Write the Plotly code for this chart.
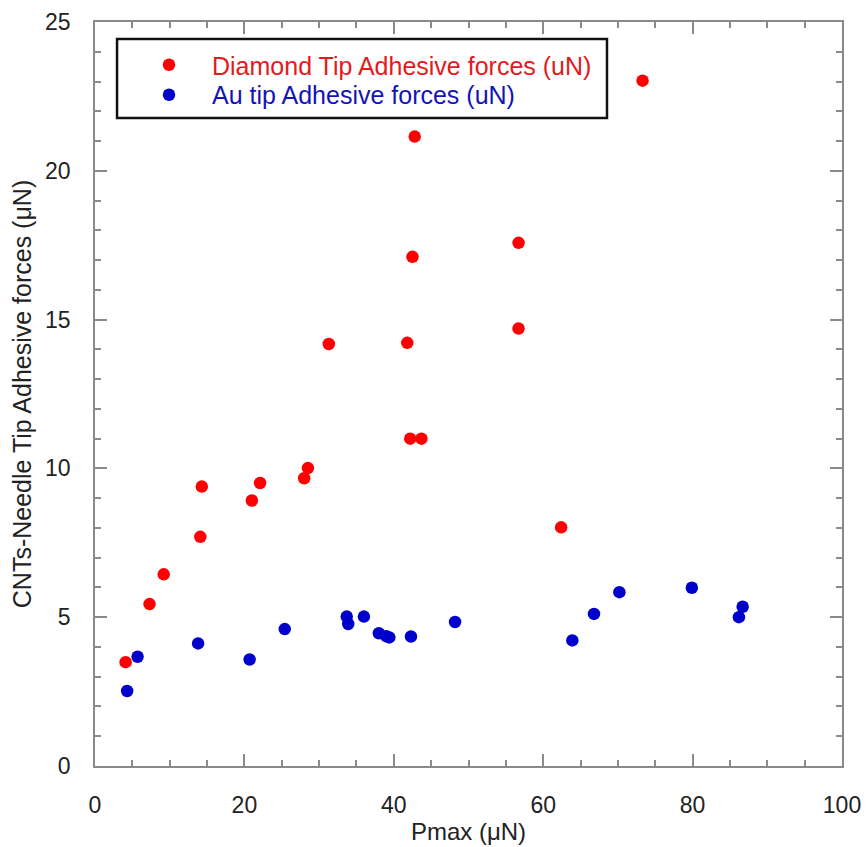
import plotly.graph_objects as go

# Diamond tip adhesive forces (red)
diamond_x = [4.1, 7.3, 9.2, 14.1, 14.3, 21.0, 22.1, 28.0, 28.5, 42.2, 43.7,
             42.8, 42.5, 41.8, 56.7, 56.7, 73.3, 31.3, 62.4]
diamond_y = [3.49, 5.44, 6.44, 7.70, 9.39, 8.92, 9.51, 9.67, 10.01, 11.0, 11.0,
             21.15, 17.11, 14.22, 17.58, 14.70, 23.03, 14.18, 8.02]

# Au tip adhesive forces (blue)
au_x = [4.3, 5.7, 13.8, 20.7, 25.4, 33.7, 33.9, 36.0, 38.0, 39.0, 39.4, 42.3,
        48.2, 63.9, 66.8, 70.2, 79.9, 86.2, 86.7]
au_y = [2.52, 3.67, 4.12, 3.58, 4.60, 5.02, 4.77, 5.02, 4.46, 4.36, 4.32, 4.35,
        4.84, 4.22, 5.11, 5.84, 5.99, 5.00, 5.35]

x_ticks = [0, 20, 40, 60, 80, 100]
y_ticks = [0, 5, 10, 15, 20, 25]

FONT = "Arial, Liberation Sans, sans-serif"
AXIS_COLOR = "#8a8a8a"

fig = go.Figure()
fig.add_trace(go.Scatter(
    x=diamond_x, y=diamond_y, mode="markers",
    marker=dict(color="#ff0000", size=12.5),
    name="<span style='color:#e31a1c'>Diamond Tip Adhesive forces (uN)</span>",
    legend="legend",
))
fig.add_trace(go.Scatter(
    x=au_x, y=au_y, mode="markers",
    marker=dict(color="#0000cc", size=12.5),
    name="<span style='color:#1414b4'>Au tip Adhesive forces (uN)</span>",
    legend="legend2",
))

axis_common = dict(
    showline=True, linecolor=AXIS_COLOR, linewidth=1.5, mirror="ticks",
    ticks="inside", ticklen=12, tickwidth=1.5, tickcolor=AXIS_COLOR,
    showgrid=False, zeroline=False,
    tickfont=dict(family=FONT, size=23, color="#222222"),
)

fig.update_xaxes(
    range=[0, 100], tickvals=x_ticks, ticklabelstandoff=18,
    minor=dict(dtick=5, ticks="inside", ticklen=6, tickwidth=1.5, tickcolor=AXIS_COLOR, showgrid=False),
    title=dict(text="Pmax (μN)", font=dict(family=FONT, size=24, color="#222222"), standoff=6),
    **axis_common,
)
fig.update_yaxes(
    range=[0, 25], tickvals=y_ticks, ticklabelstandoff=18,
    minor=dict(dtick=1, ticks="inside", ticklen=6, tickwidth=1.5, tickcolor=AXIS_COLOR, showgrid=False),
    title=dict(text="CNTs-Needle Tip Adhesive forces (μN)", font=dict(family=FONT, size=25, color="#222222"), standoff=6),
    **axis_common,
)

legend_common = dict(
    xanchor="left", yanchor="middle",
    bgcolor="rgba(0,0,0,0)", borderwidth=0,
    font=dict(family=FONT, size=25),
    itemwidth=76,
)

fig.update_layout(
    width=867, height=847,
    margin=dict(l=95, r=25, t=22, b=81, autoexpand=False),
    paper_bgcolor="white", plot_bgcolor="white",
    showlegend=True,
    legend=dict(x=0.0415, y=0.9422, **legend_common),
    legend2=dict(x=0.0415, y=0.9019, **legend_common),
    shapes=[dict(
        type="rect", xref="paper", yref="paper",
        x0=0.0295, x1=0.6854, y0=0.871, y1=0.9772,
        line=dict(color="#111111", width=2.5), fillcolor="white", layer="below",
    )],
)

fig.write_html("out.html")
